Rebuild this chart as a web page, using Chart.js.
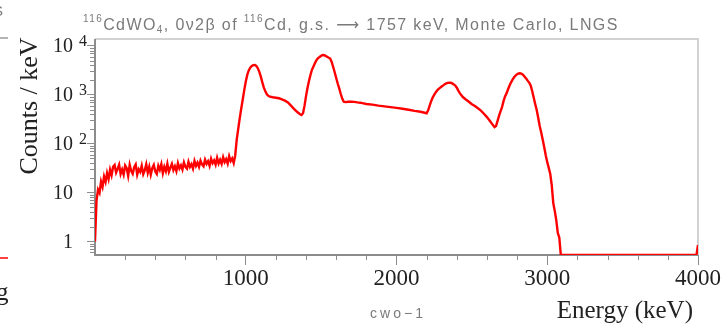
<!DOCTYPE html>
<html>
<head>
<meta charset="utf-8">
<script src="https://cdn.jsdelivr.net/npm/chart.js@4.4.1/dist/chart.umd.min.js"></script>
<style>
  html, body { margin: 0; padding: 0; background: #fff; }
  #wrap { width: 725px; height: 327px; position: relative; }
</style>
</head>
<body>
<div id="wrap"><canvas id="cwo"></canvas></div>
<script>
// energy bins (keV) and counts / keV
var energy = [
  0, 10, 20, 30, 40, 50, 60, 70, 80, 90,
  100, 110, 120, 130, 140, 150, 160, 170, 180, 190,
  200, 210, 220, 230, 240, 250, 260, 270, 280, 290,
  300, 310, 320, 330, 340, 350, 360, 370, 380, 390,
  400, 410, 420, 430, 440, 450, 460, 470, 480, 490,
  500, 510, 520, 530, 540, 550, 560, 570, 580, 590,
  600, 610, 620, 630, 640, 650, 660, 670, 680, 690,
  700, 710, 720, 730, 740, 750, 760, 770, 780, 790,
  800, 810, 820, 830, 840, 850, 860, 870, 880, 890,
  900, 910, 920, 930, 940, 950, 960, 970, 980, 990,
  1000, 1010, 1020, 1030, 1040, 1050, 1060, 1070, 1080, 1090,
  1100, 1110, 1120, 1130, 1140, 1150, 1160, 1180, 1200, 1220,
  1240, 1260, 1280, 1300, 1320, 1340, 1360, 1370, 1380, 1390,
  1400, 1410, 1420, 1430, 1440, 1450, 1460, 1470, 1480, 1490,
  1500, 1510, 1520, 1530, 1540, 1550, 1560, 1570, 1580, 1590,
  1600, 1610, 1620, 1630, 1640, 1650, 1660, 1680, 1700, 1720,
  1740, 1760, 1780, 1800, 1840, 1880, 1920, 1960, 2000, 2040,
  2080, 2120, 2160, 2180, 2200, 2210, 2220, 2230, 2240, 2250,
  2260, 2270, 2280, 2290, 2300, 2310, 2320, 2330, 2340, 2350,
  2360, 2370, 2380, 2390, 2400, 2410, 2420, 2440, 2460, 2480,
  2500, 2520, 2540, 2560, 2580, 2600, 2620, 2640, 2650, 2660,
  2670, 2680, 2690, 2700, 2710, 2720, 2730, 2740, 2750, 2760,
  2770, 2780, 2790, 2800, 2810, 2820, 2830, 2840, 2850, 2860,
  2870, 2880, 2890, 2900, 2910, 2920, 2930, 2940, 2950, 2960,
  2970, 2980, 2990, 3000, 3010, 3020, 3030, 3040, 3050, 3060,
  3070, 3080, 3090, 3990, 4000
];
var counts = [
  1.0, 6.8, 11.5, 9.9, 16.8, 13.1, 21.3, 16.6, 25.2, 19.0,
  29.4, 22.7, 33.9, 36.8, 25.6, 30.5, 37.2, 24.1, 29.8, 23.4,
  35.9, 31.7, 22.0, 36.9, 27.8, 24.2, 33.1, 37.7, 23.3, 30.0,
  26.6, 35.4, 23.9, 28.6, 38.1, 25.4, 33.8, 23.3, 31.5, 36.7,
  26.9, 24.0, 35.4, 29.2, 38.1, 25.0, 33.6, 27.4, 39.0, 26.7,
  32.2, 38.5, 28.8, 34.4, 27.5, 40.1, 31.2, 36.0, 29.6, 41.6,
  33.4, 30.9, 42.8, 33.7, 38.3, 31.0, 44.5, 35.2, 40.9, 33.6,
  45.0, 37.8, 34.6, 47.1, 38.7, 43.9, 35.2, 49.3, 40.1, 45.6,
  37.4, 51.5, 39.4, 46.8, 38.7, 53.1, 42.0, 48.3, 39.2, 55.6,
  44.3, 49.9, 40.2, 57.5, 120, 200, 330, 520, 800, 1250,
  1850, 2550, 3150, 3600, 3880, 4050, 4070, 3900, 3500, 2950,
  2350, 1800, 1400, 1180, 1020, 950, 915, 890, 870, 850,
  810, 760, 700, 600, 515, 450, 400, 386, 420, 600,
  950, 1400, 1950, 2600, 3300, 3850, 4500, 5150, 5650, 5950,
  6300, 6500, 6450, 6250, 6000, 5750, 5500, 4700, 3700, 2900,
  2200, 1700, 1350, 1050, 840, 720, 710, 720, 725, 715,
  700, 690, 670, 650, 630, 600, 580, 560, 540, 520,
  495, 470, 450, 435, 419, 480, 600, 740, 880, 1000,
  1120, 1230, 1320, 1400, 1480, 1560, 1650, 1710, 1750, 1770,
  1760, 1710, 1630, 1540, 1400, 1220, 1080, 900, 800, 720,
  640, 590, 530, 475, 410, 350, 290, 240, 218, 230,
  290, 370, 460, 560, 740, 930, 1070, 1300, 1550, 1800,
  2050, 2280, 2480, 2640, 2730, 2760, 2700, 2550, 2350, 2150,
  1950, 1780, 1550, 1200, 880, 650, 490, 340, 230, 170,
  120, 85, 58, 42, 32, 24, 14, 6.1, 4.2, 2.7,
  1.5, 1.2, 0.53, 0.53, 0.85
];
var yDecades = [1, 10, 100, 1000, 10000];
var xMajor = [1000, 2000, 3000, 4000];

var axisGrey = "#8c8c8c";

var decor = {
  id: "decor",
  beforeDatasetsDraw: function (chart) {
    var c = chart.ctx, a = chart.chartArea;
    var xs = chart.scales.x, ys = chart.scales.y;
    c.save();
    // light frame on top / right
    c.strokeStyle = "#c4c4c4";
    c.lineWidth = 1.5;
    c.beginPath();
    c.moveTo(a.left, a.top); c.lineTo(a.right, a.top); c.lineTo(a.right, a.bottom);
    c.stroke();
    // axes
    c.strokeStyle = axisGrey;
    c.lineWidth = 2;
    c.beginPath();
    c.moveTo(a.left, a.top); c.lineTo(a.left, a.bottom); c.lineTo(a.right, a.bottom);
    c.stroke();
    // minor ticks
    c.lineWidth = 1;
    c.beginPath();
    for (var e = 200; e < 4000; e += 200) {
      if (e % 1000 === 0) continue;
      var px = Math.round(xs.getPixelForValue(e)) + 0.5;
      c.moveTo(px, a.bottom); c.lineTo(px, a.bottom + 5);
    }
    [0.1, 1, 10, 100, 1000].forEach(function (d) {
      for (var m = 2; m <= 9; m++) {
        var v = d * m;
        if (v < ys.min || v > ys.max) continue;
        var py = Math.round(ys.getPixelForValue(v)) + 0.5;
        c.moveTo(a.left - 5, py); c.lineTo(a.left, py);
      }
    });
    c.stroke();
    c.restore();
  },
  afterDraw: function (chart) {
    var c = chart.ctx, ys = chart.scales.y;
    c.save();
    // y tick labels with exponents
    c.fillStyle = "#222";
    yDecades.forEach(function (v) {
      var py = ys.getPixelForValue(v);
      var exp = Math.round(Math.log10(v));
      c.font = "20px 'Liberation Serif'";
      c.textAlign = "right";
      c.textBaseline = "alphabetic";
      var base = exp === 0 ? "1" : "10";
      c.fillText(base, 73, py + 6.5);
      if (exp > 1) {
        c.font = "16px 'Liberation Serif'";
        c.textAlign = "left";
        c.fillText(String(exp), 79, py + 0.5);
      }
    });
    // axis titles
    c.font = "25px 'Liberation Serif'";
    c.textAlign = "right";
    c.textBaseline = "alphabetic";
    c.fillText("Energy (keV)", 693, 318);
    c.save();
    c.translate(37, 106);
    c.rotate(-Math.PI / 2);
    c.textAlign = "center";
    c.font = "26px 'Liberation Serif'";
    c.fillText("Counts / keV", 0, 0);
    c.restore();

    // grey header
    c.fillStyle = "#7a7a7a";
    c.textAlign = "left";
    c.letterSpacing = "1.4px";
    var parts = [
      ["116", "sup"], ["CdWO", ""], ["4", "sub"], [", 0\u03BD2\u03B2 of ", ""],
      ["116", "sup"], ["Cd, g.s. ", ""], ["\u27F6", "arrow"], [" 1757 keV, Monte Carlo, LNGS", ""]
    ];
    var x = 83;
    parts.forEach(function (p) {
      var small = p[1] === "sup" || p[1] === "sub";
      c.font = p[1] === "arrow" ? "16px 'DejaVu Sans'" : (small ? "10px" : "16px") + " 'Liberation Sans'";
      var y = p[1] === "sup" ? 22 : p[1] === "sub" ? 33 : 30;
      c.fillText(p[0], x, y);
      x += c.measureText(p[0]).width;
    });
    // run label
    c.font = "14px 'Liberation Sans'";
    c.letterSpacing = "3px";
    c.textAlign = "center";
    c.fillText("cwo\u22121", 398, 318);
    c.letterSpacing = "0px";

    // bits of the neighbouring panel at the left edge
    c.strokeStyle = "#9a9a9a";
    c.lineWidth = 1.5;
    c.beginPath(); c.moveTo(0, 38); c.lineTo(8, 38); c.stroke();
    c.strokeStyle = "#ff0000";
    c.beginPath(); c.moveTo(0, 258); c.lineTo(8, 258); c.stroke();
    c.fillStyle = "#222";
    c.font = "25px 'Liberation Serif'";
    c.textAlign = "left";
    c.fillText("g", -4, 300);
    c.fillStyle = "#7a7a7a";
    c.font = "15px 'Liberation Sans'";
    c.fillText("S", -7, 16);
    c.restore();
  }
};

new Chart("cwo", {
  type: "line",
  data: {
    datasets: [
      {
        label: "cwo-1",
        data: energy.map(function (e, i) { return { x: e, y: counts[i] }; }),
        borderColor: "#ff0000",
        borderWidth: 2.4,
        pointRadius: 0,
        tension: 0,
        fill: false,
      },
    ],
  },
  options: {
    responsive: true,
    maintainAspectRatio: false,
    animation: false,
    layout: { padding: { left: 0, top: 39, right: 27, bottom: 0 } },
    plugins: {
      legend: { display: false },
      tooltip: { enabled: false },
      title: { display: false },
    },
    scales: {
      x: {
        type: "linear",
        min: 0,
        max: 4000,
        afterBuildTicks: function (s) {
          s.ticks = xMajor.map(function (v) { return { value: v }; });
        },
        afterFit: function (s) { s.height = 72; },
        ticks: {
          font: { family: "'Liberation Serif'", size: 23 },
          color: "#222",
          padding: 0,
          maxRotation: 0,
          autoSkip: false,
          callback: function (v) { return String(v); },
        },
        grid: { drawOnChartArea: false, tickLength: 10, color: axisGrey, lineWidth: 1 },
        border: { display: false },
      },
      y: {
        type: "logarithmic",
        min: 0.53,
        max: 13840,
        afterBuildTicks: function (s) {
          s.ticks = yDecades.map(function (v) { return { value: v }; });
        },
        afterFit: function (s) { s.width = 95; },
        ticks: { display: false },
        grid: { drawOnChartArea: false, tickLength: 8, color: axisGrey, lineWidth: 1 },
        border: { display: false },
      },
    },
  },
  plugins: [decor],
});
</script>
</body>
</html>
